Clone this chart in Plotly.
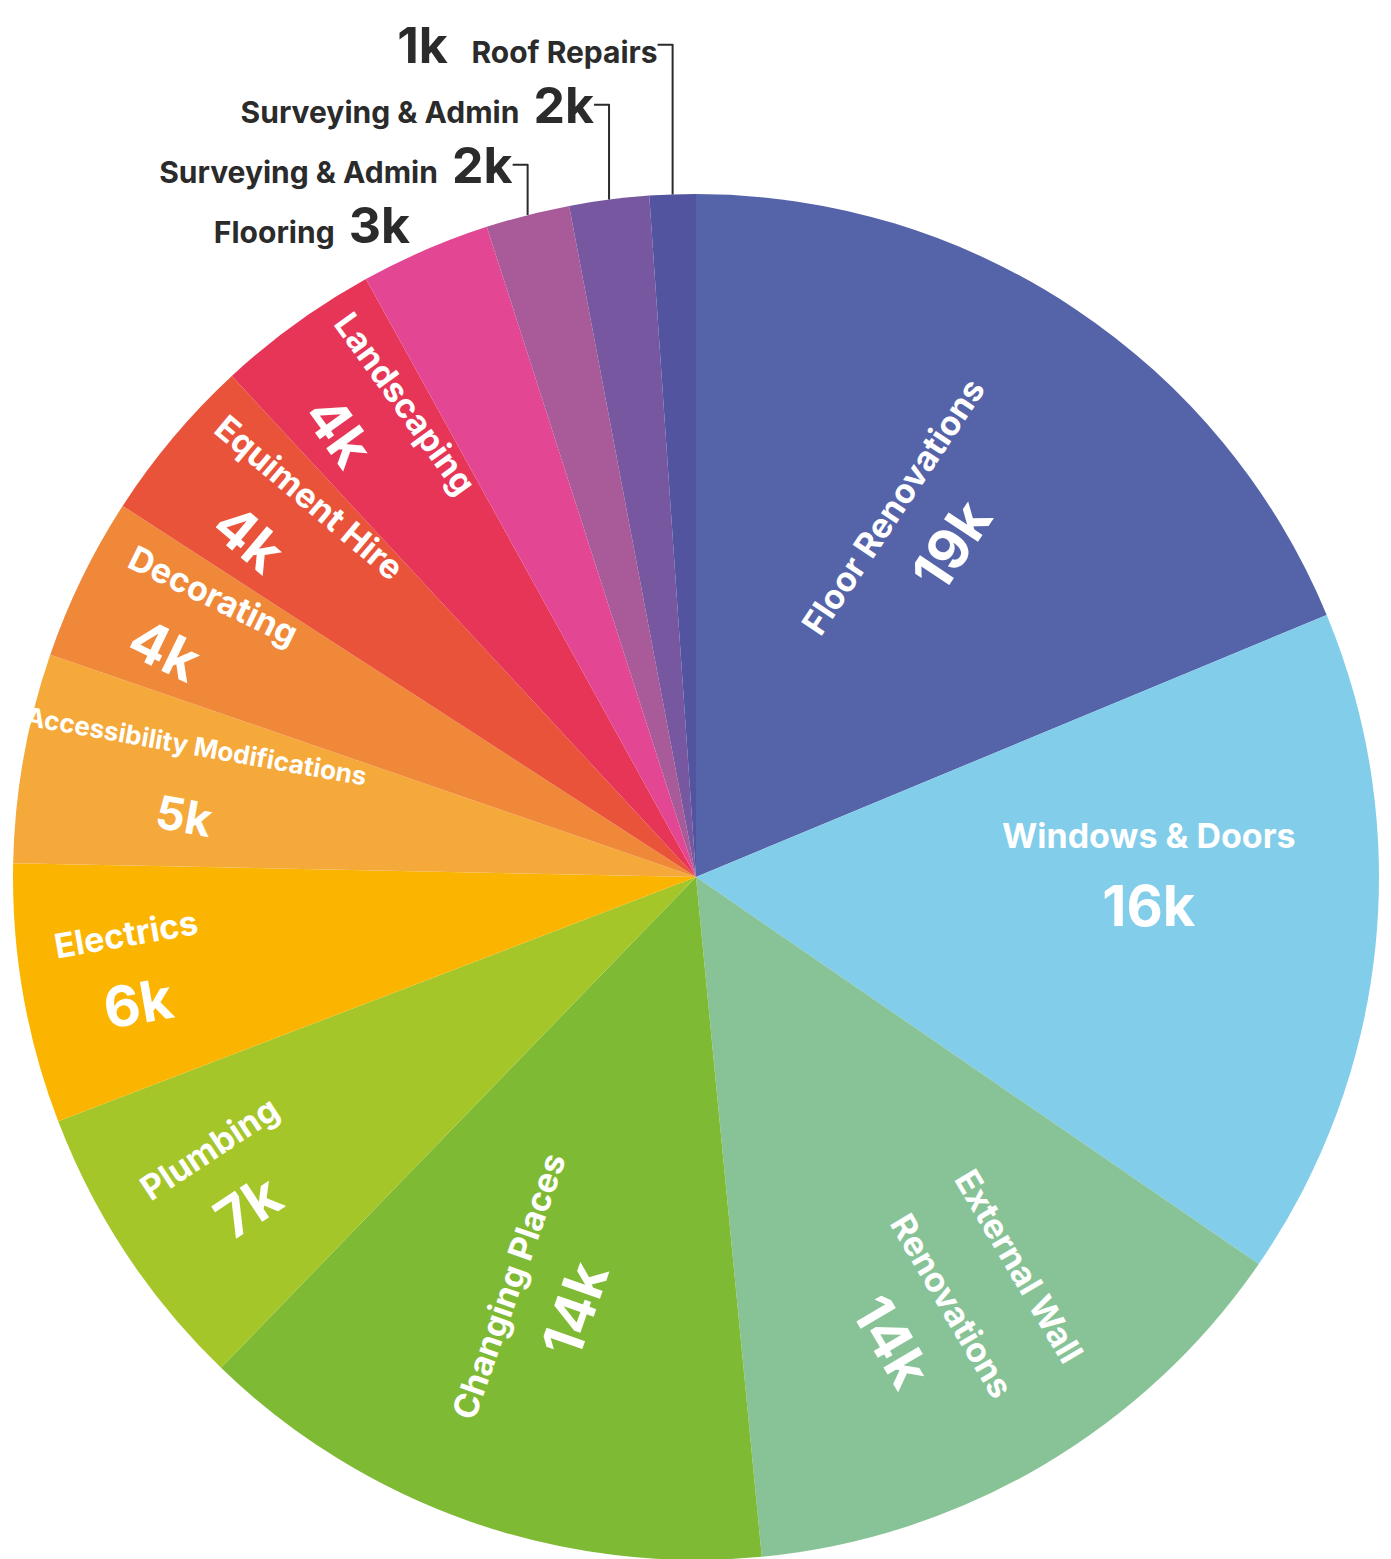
import plotly.graph_objects as go

# ---- data ----
categories = [
    "Floor Renovations", "Windows & Doors", "External Wall<br>Renovations",
    "Changing Places", "Plumbing", "Electrics", "Accessibility Modifications",
    "Decorating", "Equiment Hire", "Landscaping", "Flooring",
    "Surveying & Admin", "Surveying & Admin", "Roof Repairs",
]
values = [18900, 16000, 14000, 13900, 7000, 6200, 5000,
          3900, 4000, 3900, 3100, 2000, 1900, 1100]
value_labels = [f"{round(v / 1000)}k" for v in values]

colors = [
    "#5563A9", "#81CDEA", "#87C396", "#7FBA35", "#A5C629", "#FBB500",
    "#F5A93A", "#F0883A", "#E9533A", "#E63556", "#E34692", "#A95A99",
    "#77579F", "#52549F",
]

# ---- styling (not data) ----
# leading non-breaking spaces that nudge a name toward the pie centre
name_indent = [0, 0, 0, 0, 0, 0, 0, 5, 5, 4, 0, 0, 0, 0]
name_size = [34, 34, 34, 34, 34, 34, 26, 34, 34, 34, 30, 30, 30, 30]
value_size = [56, 56, 56, 56, 56, 56, 46, 56, 56, 56, 50, 50, 50, 50]

keys = [f"{i}-{c}" for i, c in enumerate(categories)]
small = [v < 3500 for v in values]
positions = ["outside" if s else "inside" for s in small]

BASE = 60  # base size sets the line spacing; every glyph is sized by spans
NB = chr(160)

templates = []
for c, s, ind, ns, vs in zip(categories, small, name_indent, name_size, value_size):
    if not s:
        name = f"<span style='font-size:{ns}px'>{NB * ind}%{{customdata[0]}}</span>"
        val = f"<span style='font-size:{vs}px'>%{{customdata[1]}}</span>"
        templates.append(f"{name}<br>{val}")
    elif c == "Roof Repairs":
        templates.append(
            f"<span style='font-size:{vs}px'>%{{customdata[1]}}{NB * 2}</span>"
            f"<span style='font-size:{ns}px'>%{{customdata[0]}}</span>")
    else:
        templates.append(
            f"<span style='font-size:{ns}px'>%{{customdata[0]}}{NB * 2}</span>"
            f"<span style='font-size:{vs}px'>%{{customdata[1]}}</span>")

fig = go.Figure(go.Pie(
    labels=keys,
    values=values,
    customdata=list(zip(categories, value_labels)),
    texttemplate=templates,
    textposition=positions,
    insidetextorientation="radial",
    sort=False,
    direction="clockwise",
    rotation=0,
    marker=dict(colors=colors, line=dict(width=0)),
    insidetextfont=dict(family="Inter", size=BASE, color="white", weight="bold"),
    outsidetextfont=dict(family="Inter", size=BASE, color="#2b2b2b", weight="bold"),
    domain=dict(x=[0.003595, 0.98562], y=[0.00449, 0.88069]),
    hoverinfo="skip",
    showlegend=False,
))

fig.update_layout(
    width=1391, height=1559,
    margin=dict(l=0, r=0, t=0, b=0, autoexpand=False),
    paper_bgcolor="white",
    plot_bgcolor="white",
    font=dict(family="Inter"),
    uniformtext=dict(minsize=BASE, mode="show"),
)

fig.write_html("out.html")
